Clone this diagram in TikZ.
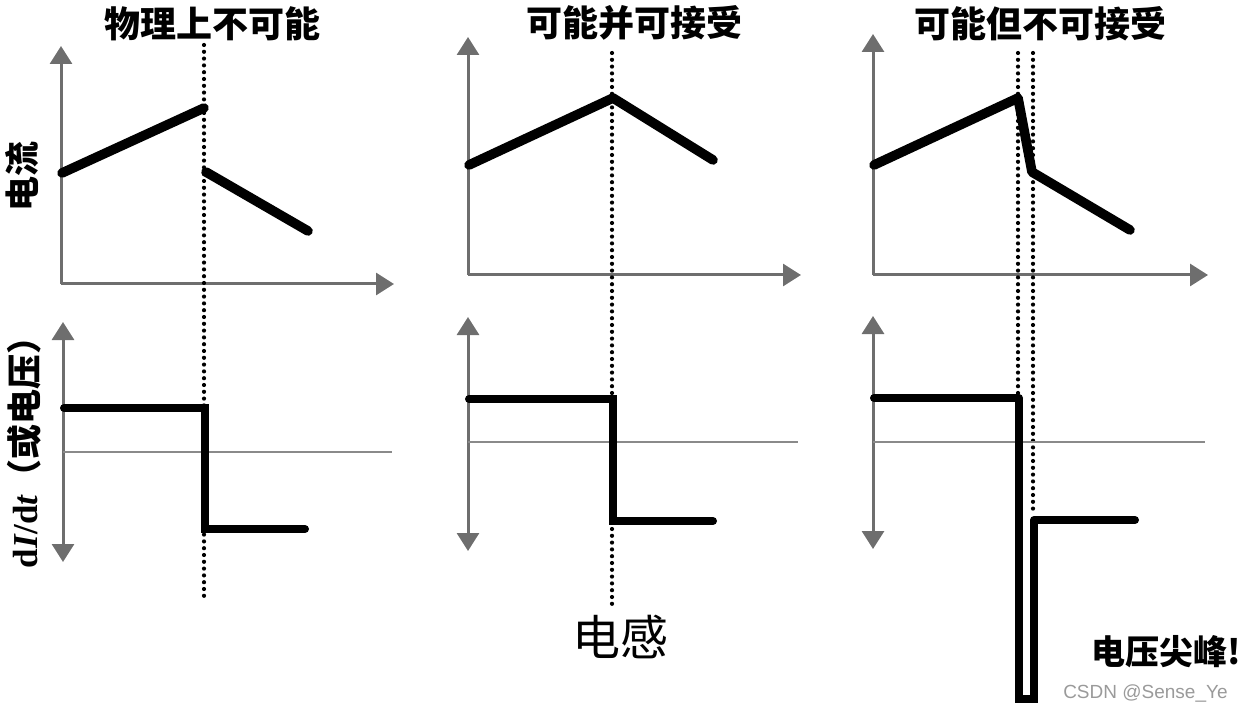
\documentclass[tikz,border=0pt]{standalone}
\usepackage{fontspec}
\setmainfont{Liberation Serif}
\newfontfamily\cjk{Noto Sans CJK SC}
\newfontfamily\wmfont{Liberation Sans}
\usetikzlibrary{arrows.meta}
\definecolor{axisgray}{HTML}{6E6E6E}
\definecolor{zerogray}{HTML}{8A8A8A}
\definecolor{wmgray}{HTML}{9A9A9A}
\begin{document}
\begin{tikzpicture}[x=0.5pt,y=-0.5pt,
  tipA/.tip={Triangle[length=9pt,width=11pt]},
  axis/.style={draw=axisgray, line width=1.5pt, -tipA},
  daxis/.style={draw=axisgray, line width=1.5pt, tipA-tipA},
  zeroline/.style={draw=zerogray, line width=1pt},
  curve/.style={line width=4.8pt, line cap=round, line join=round},
  stepline/.style={line width=4pt, line cap=round, line join=miter},
  spikeline/.style={line width=3.6pt, line join=miter},
  guide/.style={line width=2.1pt, dash pattern=on 0pt off 3.4pt, line cap=round},
  title/.style={font=\cjk\bfseries\fontsize{18pt}{21pt}\selectfont, inner sep=0pt},
  ylab/.style={font=\cjk\bfseries\fontsize{17.5pt}{20pt}\selectfont, inner sep=0pt, rotate=90},
  note/.style={font=\cjk\fontsize{24pt}{27pt}\selectfont, inner sep=0pt},
  spike/.style={font=\cjk\bfseries\fontsize{17pt}{20pt}\selectfont, inner sep=0pt},
  wm/.style={font=\wmfont\fontsize{9.5pt}{11pt}\selectfont, text=wmgray, inner sep=0pt}]
\useasboundingbox (0,0) rectangle (1242,711);

% ---------- titles and labels ----------
\node[title] (t1) at (212,24) {物理上不可能};
\node[title] (t2) at (634,23) {可能并可接受};
\node[title] (t3) at (1040,24) {可能但不可接受};
\node[ylab] (lI) at (22,177) {电流};
\node[ylab] (lV) at (24,444) {\rmfamily\bfseries d\textit{I}/d\textit{t}\cjk（或电压）};
\node[note] (ind) at (620,637) {电感};
\node[spike,anchor=east] (sp) at (1241,652) {电压尖峰!};
\node[wm,anchor=east] (csdn) at (1228,693) {CSDN @Sense\_Ye};

% ---------- panel 1 ----------
\coordinate (a1o) at (61,284);
\coordinate (a1y) at (61,46);
\coordinate (a1x) at (394,284);
\draw[axis] (a1o) -- (a1y);
\draw[axis] (a1o) -- (a1x);
\coordinate (g1t) at (204,45);
\coordinate (g1b) at (204,597);
\draw[guide] (g1t) -- (g1b);
\coordinate (c1a) at (62,173);
\coordinate (c1b) at (204,108);
\coordinate (c1c) at (206,172);
\coordinate (c1d) at (308,231);
\draw[curve] (c1a) -- (c1b);
\draw[curve] (c1c) -- (c1d);
\coordinate (b1t) at (63,322);
\coordinate (b1b) at (63,562);
\draw[daxis] (b1b) -- (b1t);
\coordinate (z1a) at (63,452);
\coordinate (z1b) at (392,452);
\draw[zeroline] (z1a) -- (z1b);
\coordinate (s1a) at (64,408);
\coordinate (s1b) at (205,408);
\coordinate (s1c) at (205,529);
\coordinate (s1d) at (305,529);
\draw[stepline] (s1a) -- (s1b) -- (s1c) -- (s1d);

% ---------- panel 2 ----------
\coordinate (a2o) at (468,275);
\coordinate (a2y) at (468,37);
\coordinate (a2x) at (801,275);
\draw[axis] (a2o) -- (a2y);
\draw[axis] (a2o) -- (a2x);
\coordinate (g2t) at (612,53);
\coordinate (g2b) at (612,605);
\draw[guide] (g2t) -- (g2b);
\coordinate (c2a) at (469,165);
\coordinate (c2b) at (613,98);
\coordinate (c2c) at (713,160);
\draw[curve] (c2a) -- (c2b) -- (c2c);
\coordinate (b2t) at (468,317);
\coordinate (b2b) at (468,551);
\draw[daxis] (b2b) -- (b2t);
\coordinate (z2a) at (468,442);
\coordinate (z2b) at (798,442);
\draw[zeroline] (z2a) -- (z2b);
\coordinate (s2a) at (469,399);
\coordinate (s2b) at (613,399);
\coordinate (s2c) at (613,521);
\coordinate (s2d) at (713,521);
\draw[stepline] (s2a) -- (s2b) -- (s2c) -- (s2d);

% ---------- panel 3 ----------
\coordinate (a3o) at (873,275);
\coordinate (a3y) at (873,34);
\coordinate (a3x) at (1208,275);
\draw[axis] (a3o) -- (a3y);
\draw[axis] (a3o) -- (a3x);
\coordinate (g3at) at (1018,53);
\coordinate (g3ab) at (1018,400);
\coordinate (g3bt) at (1033,53);
\coordinate (g3bb) at (1033,515);
\draw[guide] (g3at) -- (g3ab);
\draw[guide] (g3bt) -- (g3bb);
\coordinate (c3a) at (874,165);
\coordinate (c3b) at (1018,98);
\coordinate (c3c) at (1032,172);
\coordinate (c3d) at (1130,230);
\draw[curve] (c3a) -- (c3b) -- (c3c) -- (c3d);
\coordinate (b3t) at (873,316);
\coordinate (b3b) at (873,549);
\draw[daxis] (b3b) -- (b3t);
\coordinate (z3a) at (873,442);
\coordinate (z3b) at (1205,442);
\draw[zeroline] (z3a) -- (z3b);
\coordinate (s3a) at (874,398);
\coordinate (s3b) at (1019,398);
\coordinate (s3c) at (1019,699);
\coordinate (s3d) at (1034,699);
\coordinate (s3e) at (1034,520);
\coordinate (s3f) at (1135,520);
\draw[stepline] (s3a) -- (s3b);
\draw[spikeline] (s3b) -- (s3c) -- (s3d) -- (s3e);
\draw[stepline] (s3e) -- (s3f);
\end{tikzpicture}
\end{document}
